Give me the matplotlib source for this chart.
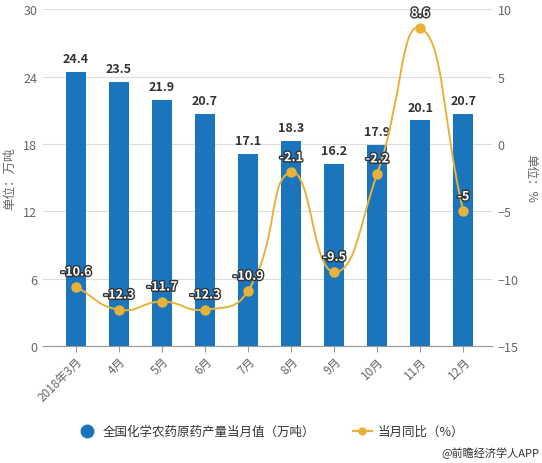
import matplotlib
matplotlib.use('Agg')
import matplotlib.pyplot as plt
import matplotlib.patheffects as pe
from matplotlib.path import Path
from matplotlib.patches import PathPatch
from matplotlib.lines import Line2D
import numpy as np

plt.rcParams['font.family'] = ['Noto Sans CJK SC', 'DejaVu Sans']

months = ['2018年3月', '4月', '5月', '6月', '7月', '8月', '9月', '10月', '11月', '12月']
output = [24.4, 23.5, 21.9, 20.7, 17.1, 18.3, 16.2, 17.9, 20.1, 20.7]
yoy = [-10.6, -12.3, -11.7, -12.3, -10.9, -2.1, -9.5, -2.2, 8.6, -5]

BAR_COLOR = '#1a75bc'
LINE_COLOR = '#e8b23a'
TEXT_COLOR = '#666666'


def smooth_path(xs, ys, sx, sy, smooth=0.5):
    # bezier path like echarts smooth line, distances measured in pixel scale
    pts = np.column_stack([xs, ys]).astype(float)
    scale = np.array([sx, sy])
    n = len(pts)
    cps = []
    for i in range(n):
        prev = pts[max(i - 1, 0)]
        nxt = pts[min(i + 1, n - 1)]
        v = nxt - prev
        d0 = np.linalg.norm((pts[i] - prev) * scale)
        d1 = np.linalg.norm((nxt - pts[i]) * scale)
        tot = d0 + d1 if d0 + d1 > 0 else 1
        c0 = pts[i] - v * smooth * d0 / tot
        c1 = pts[i] + v * smooth * d1 / tot
        cps.append((c0, c1))
    verts = [pts[0]]
    codes = [Path.MOVETO]
    for i in range(n - 1):
        verts += [cps[i][1], cps[i + 1][0], pts[i + 1]]
        codes += [Path.CURVE4] * 3
    return Path(verts, codes)


fig = plt.figure(figsize=(5.42, 4.64), dpi=100)
ax = fig.add_axes([0.079, 0.252, 0.829, 0.726])
ax2 = ax.twinx()

x = np.arange(len(months))
ax.bar(x, output, width=0.47, color=BAR_COLOR, zorder=2)
for xi, v in zip(x, output):
    ax.text(xi, v + 0.6, f'{v}', ha='center', va='bottom', fontsize=9,
            fontweight='bold', color='#333333', zorder=5)

ax.set_xlim(-0.77, 9.67)
ax.set_ylim(0, 30)
ax.set_yticks(range(0, 31, 6))
ax.grid(axis='y', color='#dddddd', linewidth=0.8, zorder=0)
ax.set_axisbelow(True)
ax.set_xticks(x)
ax.set_xticklabels(months, rotation=45, ha='right', rotation_mode='anchor')
ax.tick_params(axis='x', colors='#999999', labelcolor=TEXT_COLOR, labelsize=8.5, length=4, pad=2)
ax.tick_params(axis='y', length=0, labelcolor=TEXT_COLOR, labelsize=9, pad=4)
for s in ['top', 'left', 'right']:
    ax.spines[s].set_visible(False)
ax.spines['bottom'].set_color('#999999')
ax.set_ylabel('单位：万吨', color=TEXT_COLOR, fontsize=9, va='center')
ax.yaxis.set_label_coords(-0.073, 0.5)

ax2.set_ylim(-15, 10)
ax2.set_yticks(range(-15, 11, 5))
ax2.tick_params(axis='y', length=0, labelcolor=TEXT_COLOR, labelsize=9, pad=4)
for s in ['top', 'left', 'right', 'bottom']:
    ax2.spines[s].set_visible(False)
ax2.set_ylabel('单位：%', color=TEXT_COLOR, fontsize=9, rotation=270, va='center')
ax2.yaxis.set_label_coords(1.085, 0.5)

px_x = 0.829 * 542 / (9.67 + 0.77)
px_y = 0.726 * 464 / 25
path = smooth_path(x, yoy, px_x, px_y)
ax2.add_patch(PathPatch(path, facecolor='none', edgecolor=LINE_COLOR, linewidth=1.4, zorder=3))
ax2.plot(x, yoy, 'o', color=LINE_COLOR, markersize=6.5, zorder=4)
for xi, v in zip(x, yoy):
    t = ax2.text(xi, v + 0.6, f'{v:g}', ha='center', va='bottom', fontsize=9,
                 fontweight='bold', color='white', zorder=6)
    t.set_path_effects([pe.withStroke(linewidth=2, foreground='#333333')])

handles = [
    Line2D([], [], marker='o', linestyle='none', color=BAR_COLOR, markersize=9),
    Line2D([], [], marker='o', color=LINE_COLOR, markersize=5, linewidth=1.6),
]
fig.legend(handles, ['全国化学农药原药产量当月值（万吨）', '当月同比（%）'],
           loc='center', bbox_to_anchor=(0.5, 0.068), ncol=2, frameon=False,
           fontsize=9, labelcolor='#333333', columnspacing=3, handletextpad=0.5,
           handlelength=1.5)

fig.text(0.995, 0.01, '@前瞻经济学人APP', ha='right', va='bottom', fontsize=8, color='#333333')

fig.savefig('out.png', dpi=100)
